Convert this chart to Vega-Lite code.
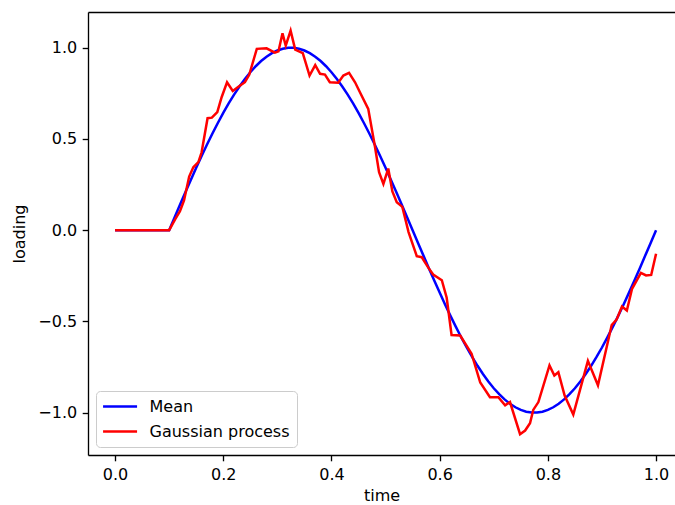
{
  "$schema": "https://vega.github.io/schema/vega-lite/v6.json",
  "autosize": {"type": "none"},
  "padding": {"left": 88, "top": 12, "right": 0, "bottom": 50},
  "width": 587,
  "height": 443,
  "background": "white",
  "config": {
    "view": {"stroke": null},
    "font": "DejaVu Sans",
    "axis": {
      "grid": false,
      "domainColor": "black",
      "domainWidth": 1.33,
      "tickColor": "black",
      "tickWidth": 1.33,
      "tickSize": 5.8,
      "labelPadding": 5.5,
      "labelFont": "DejaVu Sans",
      "labelFontSize": 16,
      "labelColor": "black",
      "titleFont": "DejaVu Sans",
      "titleFontSize": 16,
      "titleFontWeight": "normal",
      "titleColor": "black"
    },
    "legend": {
      "orient": "bottom-left",
      "offset": 8,
      "symbolType": "M-1.25,0H3.79",
      "symbolSize": 182,
      "symbolStrokeWidth": 2.5,
      "labelFont": "DejaVu Sans",
      "labelFontSize": 16,
      "labelColor": "black",
      "labelOffset": 30,
      "padding": 7.5,
      "rowPadding": 9,
      "strokeColor": "#cccccc",
      "fillColor": "rgba(255,255,255,0.8)",
      "cornerRadius": 4
    }
  },
  "datasets": {
    "mean": [
      {"t": 0.0, "value": 0, "series": "Mean"},
      {"t": 0.10, "value": 0, "series": "Mean"},
      {"t": 0.11, "value": 0.0698, "series": "Mean"},
      {"t": 0.12, "value": 0.1392, "series": "Mean"},
      {"t": 0.13, "value": 0.2079, "series": "Mean"},
      {"t": 0.14, "value": 0.2756, "series": "Mean"},
      {"t": 0.15, "value": 0.3420, "series": "Mean"},
      {"t": 0.16, "value": 0.4067, "series": "Mean"},
      {"t": 0.17, "value": 0.4695, "series": "Mean"},
      {"t": 0.18, "value": 0.5299, "series": "Mean"},
      {"t": 0.19, "value": 0.5878, "series": "Mean"},
      {"t": 0.20, "value": 0.6428, "series": "Mean"},
      {"t": 0.21, "value": 0.6947, "series": "Mean"},
      {"t": 0.22, "value": 0.7431, "series": "Mean"},
      {"t": 0.23, "value": 0.7880, "series": "Mean"},
      {"t": 0.24, "value": 0.8290, "series": "Mean"},
      {"t": 0.25, "value": 0.8660, "series": "Mean"},
      {"t": 0.26, "value": 0.8988, "series": "Mean"},
      {"t": 0.27, "value": 0.9272, "series": "Mean"},
      {"t": 0.28, "value": 0.9511, "series": "Mean"},
      {"t": 0.29, "value": 0.9703, "series": "Mean"},
      {"t": 0.30, "value": 0.9848, "series": "Mean"},
      {"t": 0.31, "value": 0.9945, "series": "Mean"},
      {"t": 0.32, "value": 0.9994, "series": "Mean"},
      {"t": 0.33, "value": 0.9994, "series": "Mean"},
      {"t": 0.34, "value": 0.9945, "series": "Mean"},
      {"t": 0.35, "value": 0.9848, "series": "Mean"},
      {"t": 0.36, "value": 0.9703, "series": "Mean"},
      {"t": 0.37, "value": 0.9511, "series": "Mean"},
      {"t": 0.38, "value": 0.9272, "series": "Mean"},
      {"t": 0.39, "value": 0.8988, "series": "Mean"},
      {"t": 0.40, "value": 0.8660, "series": "Mean"},
      {"t": 0.41, "value": 0.8290, "series": "Mean"},
      {"t": 0.42, "value": 0.7880, "series": "Mean"},
      {"t": 0.43, "value": 0.7431, "series": "Mean"},
      {"t": 0.44, "value": 0.6947, "series": "Mean"},
      {"t": 0.45, "value": 0.6428, "series": "Mean"},
      {"t": 0.46, "value": 0.5878, "series": "Mean"},
      {"t": 0.47, "value": 0.5299, "series": "Mean"},
      {"t": 0.48, "value": 0.4695, "series": "Mean"},
      {"t": 0.49, "value": 0.4067, "series": "Mean"},
      {"t": 0.50, "value": 0.3420, "series": "Mean"},
      {"t": 0.51, "value": 0.2756, "series": "Mean"},
      {"t": 0.52, "value": 0.2079, "series": "Mean"},
      {"t": 0.53, "value": 0.1392, "series": "Mean"},
      {"t": 0.54, "value": 0.0698, "series": "Mean"},
      {"t": 0.55, "value": 0.0, "series": "Mean"},
      {"t": 0.56, "value": -0.0698, "series": "Mean"},
      {"t": 0.57, "value": -0.1392, "series": "Mean"},
      {"t": 0.58, "value": -0.2079, "series": "Mean"},
      {"t": 0.59, "value": -0.2756, "series": "Mean"},
      {"t": 0.60, "value": -0.3420, "series": "Mean"},
      {"t": 0.61, "value": -0.4067, "series": "Mean"},
      {"t": 0.62, "value": -0.4695, "series": "Mean"},
      {"t": 0.63, "value": -0.5299, "series": "Mean"},
      {"t": 0.64, "value": -0.5878, "series": "Mean"},
      {"t": 0.65, "value": -0.6428, "series": "Mean"},
      {"t": 0.66, "value": -0.6947, "series": "Mean"},
      {"t": 0.67, "value": -0.7431, "series": "Mean"},
      {"t": 0.68, "value": -0.7880, "series": "Mean"},
      {"t": 0.69, "value": -0.8290, "series": "Mean"},
      {"t": 0.70, "value": -0.8660, "series": "Mean"},
      {"t": 0.71, "value": -0.8988, "series": "Mean"},
      {"t": 0.72, "value": -0.9272, "series": "Mean"},
      {"t": 0.73, "value": -0.9511, "series": "Mean"},
      {"t": 0.74, "value": -0.9703, "series": "Mean"},
      {"t": 0.75, "value": -0.9848, "series": "Mean"},
      {"t": 0.76, "value": -0.9945, "series": "Mean"},
      {"t": 0.77, "value": -0.9994, "series": "Mean"},
      {"t": 0.78, "value": -0.9994, "series": "Mean"},
      {"t": 0.79, "value": -0.9945, "series": "Mean"},
      {"t": 0.80, "value": -0.9848, "series": "Mean"},
      {"t": 0.81, "value": -0.9703, "series": "Mean"},
      {"t": 0.82, "value": -0.9511, "series": "Mean"},
      {"t": 0.83, "value": -0.9272, "series": "Mean"},
      {"t": 0.84, "value": -0.8988, "series": "Mean"},
      {"t": 0.85, "value": -0.8660, "series": "Mean"},
      {"t": 0.86, "value": -0.8290, "series": "Mean"},
      {"t": 0.87, "value": -0.7880, "series": "Mean"},
      {"t": 0.88, "value": -0.7431, "series": "Mean"},
      {"t": 0.89, "value": -0.6947, "series": "Mean"},
      {"t": 0.90, "value": -0.6428, "series": "Mean"},
      {"t": 0.91, "value": -0.5878, "series": "Mean"},
      {"t": 0.92, "value": -0.5299, "series": "Mean"},
      {"t": 0.93, "value": -0.4695, "series": "Mean"},
      {"t": 0.94, "value": -0.4067, "series": "Mean"},
      {"t": 0.95, "value": -0.3420, "series": "Mean"},
      {"t": 0.96, "value": -0.2756, "series": "Mean"},
      {"t": 0.97, "value": -0.2079, "series": "Mean"},
      {"t": 0.98, "value": -0.1392, "series": "Mean"},
      {"t": 0.99, "value": -0.0698, "series": "Mean"},
      {"t": 1.00, "value": 0.0, "series": "Mean"}
    ],
    "gp": [
      {"t": 0.0, "value": 0, "series": "Gaussian process"},
      {"t": 0.1, "value": 0, "series": "Gaussian process"},
      {"t": 0.111, "value": 0.059, "series": "Gaussian process"},
      {"t": 0.120, "value": 0.104, "series": "Gaussian process"},
      {"t": 0.1275, "value": 0.163, "series": "Gaussian process"},
      {"t": 0.137, "value": 0.294, "series": "Gaussian process"},
      {"t": 0.1447, "value": 0.345, "series": "Gaussian process"},
      {"t": 0.154, "value": 0.373, "series": "Gaussian process"},
      {"t": 0.160, "value": 0.427, "series": "Gaussian process"},
      {"t": 0.171, "value": 0.614, "series": "Gaussian process"},
      {"t": 0.179, "value": 0.617, "series": "Gaussian process"},
      {"t": 0.189, "value": 0.647, "series": "Gaussian process"},
      {"t": 0.197, "value": 0.729, "series": "Gaussian process"},
      {"t": 0.207, "value": 0.811, "series": "Gaussian process"},
      {"t": 0.2176, "value": 0.763, "series": "Gaussian process"},
      {"t": 0.228, "value": 0.786, "series": "Gaussian process"},
      {"t": 0.240, "value": 0.811, "series": "Gaussian process"},
      {"t": 0.248, "value": 0.852, "series": "Gaussian process"},
      {"t": 0.262, "value": 0.994, "series": "Gaussian process"},
      {"t": 0.280, "value": 0.997, "series": "Gaussian process"},
      {"t": 0.2955, "value": 0.973, "series": "Gaussian process"},
      {"t": 0.302, "value": 0.980, "series": "Gaussian process"},
      {"t": 0.3095, "value": 1.079, "series": "Gaussian process"},
      {"t": 0.3155, "value": 1.012, "series": "Gaussian process"},
      {"t": 0.3245, "value": 1.094, "series": "Gaussian process"},
      {"t": 0.333, "value": 0.99, "series": "Gaussian process"},
      {"t": 0.347, "value": 0.971, "series": "Gaussian process"},
      {"t": 0.3595, "value": 0.848, "series": "Gaussian process"},
      {"t": 0.370, "value": 0.905, "series": "Gaussian process"},
      {"t": 0.379, "value": 0.857, "series": "Gaussian process"},
      {"t": 0.388, "value": 0.853, "series": "Gaussian process"},
      {"t": 0.397, "value": 0.811, "series": "Gaussian process"},
      {"t": 0.4125, "value": 0.808, "series": "Gaussian process"},
      {"t": 0.422, "value": 0.848, "series": "Gaussian process"},
      {"t": 0.4325, "value": 0.862, "series": "Gaussian process"},
      {"t": 0.4436, "value": 0.811, "series": "Gaussian process"},
      {"t": 0.4547, "value": 0.744, "series": "Gaussian process"},
      {"t": 0.468, "value": 0.665, "series": "Gaussian process"},
      {"t": 0.4806, "value": 0.455, "series": "Gaussian process"},
      {"t": 0.488, "value": 0.318, "series": "Gaussian process"},
      {"t": 0.496, "value": 0.254, "series": "Gaussian process"},
      {"t": 0.505, "value": 0.338, "series": "Gaussian process"},
      {"t": 0.5126, "value": 0.213, "series": "Gaussian process"},
      {"t": 0.5207, "value": 0.153, "series": "Gaussian process"},
      {"t": 0.531, "value": 0.128, "series": "Gaussian process"},
      {"t": 0.5425, "value": -0.01, "series": "Gaussian process"},
      {"t": 0.5577, "value": -0.142, "series": "Gaussian process"},
      {"t": 0.567, "value": -0.148, "series": "Gaussian process"},
      {"t": 0.579, "value": -0.205, "series": "Gaussian process"},
      {"t": 0.588, "value": -0.243, "series": "Gaussian process"},
      {"t": 0.604, "value": -0.274, "series": "Gaussian process"},
      {"t": 0.613, "value": -0.37, "series": "Gaussian process"},
      {"t": 0.622, "value": -0.574, "series": "Gaussian process"},
      {"t": 0.638, "value": -0.577, "series": "Gaussian process"},
      {"t": 0.659, "value": -0.677, "series": "Gaussian process"},
      {"t": 0.675, "value": -0.835, "series": "Gaussian process"},
      {"t": 0.693, "value": -0.915, "series": "Gaussian process"},
      {"t": 0.7085, "value": -0.915, "series": "Gaussian process"},
      {"t": 0.721, "value": -0.96, "series": "Gaussian process"},
      {"t": 0.730, "value": -0.942, "series": "Gaussian process"},
      {"t": 0.7486, "value": -1.118, "series": "Gaussian process"},
      {"t": 0.758, "value": -1.098, "series": "Gaussian process"},
      {"t": 0.767, "value": -1.058, "series": "Gaussian process"},
      {"t": 0.773, "value": -0.985, "series": "Gaussian process"},
      {"t": 0.7825, "value": -0.942, "series": "Gaussian process"},
      {"t": 0.803, "value": -0.741, "series": "Gaussian process"},
      {"t": 0.812, "value": -0.796, "series": "Gaussian process"},
      {"t": 0.8194, "value": -0.778, "series": "Gaussian process"},
      {"t": 0.831, "value": -0.906, "series": "Gaussian process"},
      {"t": 0.847, "value": -1.01, "series": "Gaussian process"},
      {"t": 0.874, "value": -0.716, "series": "Gaussian process"},
      {"t": 0.8926, "value": -0.85, "series": "Gaussian process"},
      {"t": 0.918, "value": -0.52, "series": "Gaussian process"},
      {"t": 0.927, "value": -0.49, "series": "Gaussian process"},
      {"t": 0.937, "value": -0.418, "series": "Gaussian process"},
      {"t": 0.946, "value": -0.44, "series": "Gaussian process"},
      {"t": 0.9556, "value": -0.321, "series": "Gaussian process"},
      {"t": 0.972, "value": -0.234, "series": "Gaussian process"},
      {"t": 0.9815, "value": -0.248, "series": "Gaussian process"},
      {"t": 0.991, "value": -0.245, "series": "Gaussian process"},
      {"t": 1.0, "value": -0.129, "series": "Gaussian process"}
    ]
  },
  "layer": [
    {
      "data": {"name": "mean"},
      "mark": {"type": "line", "strokeWidth": 2.5, "clip": true},
      "encoding": {
        "x": {
          "field": "t", "type": "quantitative",
          "scale": {"domain": [-0.05, 1.035], "nice": false, "zero": false},
          "axis": {
            "orient": "bottom",
            "title": "time",
            "values": [0, 0.2, 0.4, 0.6, 0.8, 1.0],
            "labelExpr": "format(datum.value, '.1f')",
            "titlePadding": 5
          }
        },
        "y": {
          "field": "value", "type": "quantitative",
          "scale": {"domain": [-1.232, 1.196], "nice": false, "zero": false},
          "axis": {
            "title": "loading",
            "values": [-1, -0.5, 0, 0.5, 1],
            "labelExpr": "replace(format(datum.value, '.1f'), '-', '−')",
            "titlePadding": 10
          }
        },
        "color": {
          "field": "series", "type": "nominal",
          "scale": {"domain": ["Mean", "Gaussian process"], "range": ["#0000ff", "#ff0000"]},
          "legend": {"title": null}
        }
      }
    },
    {
      "data": {"name": "gp"},
      "mark": {"type": "line", "strokeWidth": 2.5, "clip": true},
      "encoding": {
        "x": {
          "field": "t", "type": "quantitative",
          "axis": {"orient": "top", "title": null, "labels": false, "ticks": false, "domain": true}
        },
        "y": {
          "field": "value", "type": "quantitative",
          "axis": {
            "title": "loading",
            "values": [-1, -0.5, 0, 0.5, 1],
            "labelExpr": "replace(format(datum.value, '.1f'), '-', '−')",
            "titlePadding": 10
          }
        },
        "color": {"field": "series", "type": "nominal"}
      }
    }
  ],
  "resolve": {"axis": {"x": "independent"}}
}
